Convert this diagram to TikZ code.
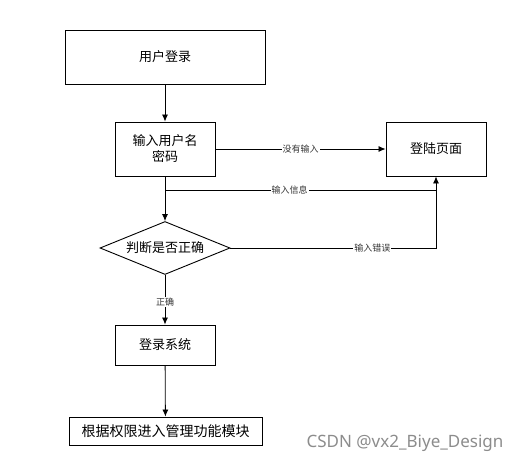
\documentclass[tikz,border=0pt]{standalone}
\usepackage{fontspec}
\usepackage{tikz}
\usetikzlibrary{arrows.meta,shapes.geometric}
\newfontfamily\cjk{Noto Sans CJK SC}
\newfontfamily\wmfont{Noto Sans}

\begin{document}
\begin{tikzpicture}[x=1pt,y=-1pt,
		box/.style={draw=black, line width=0.9pt, fill=white, font=\cjk\fontsize{13}{16}\selectfont, align=center, inner sep=0pt},
		flow/.style={draw=black, line width=0.8pt, -{Latex[length=7pt,width=6pt]}},
		edge/.style={draw=black, line width=0.8pt},
		lbl/.style={fill=white, inner sep=1pt, font=\cjk\fontsize{9}{11}\selectfont, text=black!80}]
		\useasboundingbox (0,0) rectangle (530,465);
		% main column
		\node[box, minimum width=200pt, minimum height=54pt] (login) at (165,57) {用户登录};
		\node[box, minimum width=100pt, minimum height=54pt] (input) at (165,149) {输入用户名\\密码};
		\node[box, shape=diamond, aspect=2.45, minimum width=130pt, minimum height=53pt] (judge) at (165,248) {判断是否正确};
		\node[box, minimum width=100pt, minimum height=40pt] (system) at (165,345) {登录系统};
		\node[box, minimum width=193pt, minimum height=28pt, font=\cjk\fontsize{14}{16}\selectfont] (module) at (165.5,431) {根据权限进入管理功能模块};
		% right side
		\node[box, minimum width=100pt, minimum height=54pt] (page) at (436,149) {登陆页面};
		\coordinate (split) at (165,190);
		%%%%
		\draw[flow] (login) -- (input);
		\draw[flow] (input.east) -- node[lbl, pos=0.5] {没有输入} (page.west);
		\draw[flow] (input.south) -- (judge.north);
		\draw[edge] (split) -- node[lbl, pos=0.46] {输入信息} (split -| page.south);
		\draw[flow] (judge.east) -- node[lbl, pos=0.69] {输入错误} (judge.east -| page.south) -- (page.south);
		\draw[flow] (judge.south) -- node[lbl, pos=0.54] {正确} (system.north);
		\draw[flow] (system) -- (module);
		% watermark
		\node[text=black!45, font=\wmfont\fontsize{17}{20}\selectfont, anchor=center] (mark) at (405,443) {CSDN @vx2\_Biye\_Design};
\end{tikzpicture}
\end{document}
